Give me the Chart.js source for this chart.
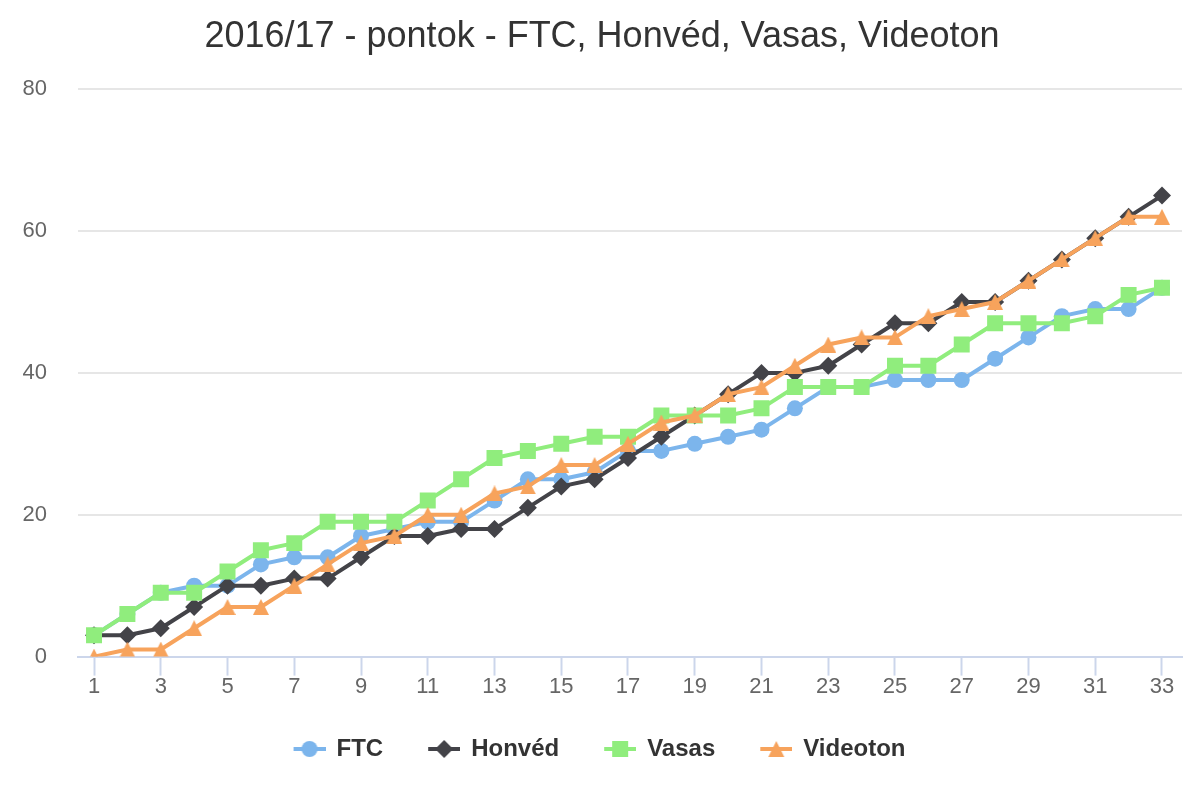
<!DOCTYPE html>
<html>
<head>
<meta charset="utf-8">
<script src="https://cdn.jsdelivr.net/npm/chart.js@4.4.1/dist/chart.umd.min.js"></script>
<style>
html,body{margin:0;padding:0;background:#ffffff;}
canvas{display:block;}
</style>
</head>
<body>
<canvas id="c" width="1200" height="800"></canvas>
<script>
const rounds = [1,2,3,4,5,6,7,8,9,10,11,12,13,14,15,16,17,18,19,20,21,22,23,24,25,26,27,28,29,30,31,32,33];
const xTickLabels = [1,3,5,7,9,11,13,15,17,19,21,23,25,27,29,31,33];
const seriesNames = ['FTC', 'Honvéd', 'Vasas', 'Videoton'];
const ftc      = [3,6,9,10,10,13,14,14,17,18,19,19,22,25,25,26,29,29,30,31,32,35,38,38,39,39,39,42,45,48,49,49,52];
const honved   = [3,3,4,7,10,10,11,11,14,17,17,18,18,21,24,25,28,31,34,37,40,40,41,44,47,47,50,50,53,56,59,62,65];
const vasas    = [3,6,9,9,12,15,16,19,19,19,22,25,28,29,30,31,31,34,34,34,35,38,38,38,41,41,44,47,47,47,48,51,52];
const videoton = [0,1,1,4,7,7,10,13,16,17,20,20,23,24,27,27,30,33,34,37,38,41,44,45,45,48,49,50,53,56,59,62,62];
const yMin = 0, yMax = 80, yStep = 20;
const titleText = '2016/17 - pontok - FTC, Honvéd, Vasas, Videoton';

const FONT = '"Liberation Sans", Arial, Helvetica, sans-serif';
const colors = ['#7cb5ec', '#434348', '#90ed7d', '#f7a35c'];

function triangleImage(color) {
  const c = document.createElement('canvas');
  c.width = 16; c.height = 16;
  const g = c.getContext('2d');
  g.fillStyle = color;
  g.beginPath();
  g.moveTo(8, 0); g.lineTo(16, 16); g.lineTo(0, 16); g.closePath();
  g.fill();
  return c;
}
const pointStyles = ['circle', 'rectRot', 'rect', triangleImage(colors[3])];
const pointRadii = [8, 9, 11.3, 8];

const LEG_EXTRA = 8;
const LEG_BOX = 32 + LEG_EXTRA;
function legendIcon(i) {
  const c = document.createElement('canvas');
  c.width = LEG_BOX + 2; c.height = 20;
  const g = c.getContext('2d');
  const x0 = LEG_EXTRA + 2;
  g.strokeStyle = colors[i];
  g.lineWidth = 4;
  g.beginPath(); g.moveTo(x0, 10); g.lineTo(x0 + 32, 10); g.stroke();
  g.fillStyle = colors[i];
  const st = pointStyles[i];
  if (typeof st === 'string') {
    Chart.helpers.drawPoint(g, {pointStyle: st, radius: pointRadii[i], rotation: 0, borderWidth: 0}, x0 + 16, 10);
  } else {
    g.drawImage(st, x0 + 8, 2);
  }
  return c;
}

const seriesData = [ftc, honved, vasas, videoton];
const datasets = seriesNames.map((name, i) => ({
  label: name,
  data: seriesData[i],
  borderColor: colors[i],
  backgroundColor: colors[i],
  borderWidth: 4,
  borderJoinStyle: 'round',
  borderCapStyle: 'round',
  pointStyle: pointStyles[i],
  pointRadius: pointRadii[i],
  pointHoverRadius: pointRadii[i],
  pointBorderWidth: 0,
  pointBackgroundColor: colors[i],
  tension: 0,
  fill: false,
  order: 4 - i
}));

const legendIcons = seriesNames.map((_, i) => legendIcon(i));

const legendShift = {
  id: 'legendShift',
  afterLayout(chart) {
    if (chart.legend) { chart.legend.left -= 7; chart.legend.right -= 7; }
  }
};

new Chart(document.getElementById('c'), {
  type: 'line',
  data: { labels: rounds, datasets },
  plugins: [legendShift],
  options: {
    responsive: false,
    animation: false,
    devicePixelRatio: 1,
    layout: { padding: { left: 22, right: 18, top: 0, bottom: 29 } },
    plugins: {
      title: {
        display: true,
        text: titleText,
        color: '#333333',
        font: { family: FONT, size: 36, weight: 'normal' },
        padding: { top: 15, bottom: 31 }
      },
      legend: {
        position: 'bottom',
        labels: {
          color: '#333333',
          font: { family: FONT, size: 24, weight: 'bold' },
          usePointStyle: true,
          pointStyleWidth: LEG_BOX,
          padding: 36,
          generateLabels(chart) {
            const items = Chart.defaults.plugins.legend.labels.generateLabels(chart);
            items.sort((a, b) => a.datasetIndex - b.datasetIndex);
            items.forEach(it => { it.pointStyle = legendIcons[it.datasetIndex]; it.lineWidth = 0; });
            return items;
          }
        }
      },
      tooltip: { enabled: false }
    },
    scales: {
      x: {
        type: 'linear',
        min: 0.52,
        max: 33.6,
        afterBuildTicks: axis => { axis.ticks = xTickLabels.map(v => ({ value: v })); },
        afterFit: scale => { scale.height += 3; },
        grid: {
          display: true,
          drawOnChartArea: false,
          drawTicks: true,
          tickLength: 19,
          tickWidth: 2,
          tickColor: '#ccd6eb'
        },
        border: { display: true, color: '#ccd6eb', width: 2 },
        ticks: {
          autoSkip: false,
          maxRotation: 0,
          color: '#666666',
          font: { family: FONT, size: 22 },
          padding: -2,
          callback: v => String(v)
        }
      },
      y: {
        min: yMin,
        max: yMax,
        afterFit: scale => { scale.width = 56; },
        grid: {
          color: ctx => (ctx.tick && ctx.tick.value === 0 ? 'rgba(0,0,0,0)' : '#e6e6e6'),
          lineWidth: 2,
          drawTicks: false
        },
        border: { display: false },
        ticks: {
          stepSize: yStep,
          color: '#666666',
          font: { family: FONT, size: 22 },
          padding: 31
        }
      }
    }
  }
});
</script>
</body>
</html>
